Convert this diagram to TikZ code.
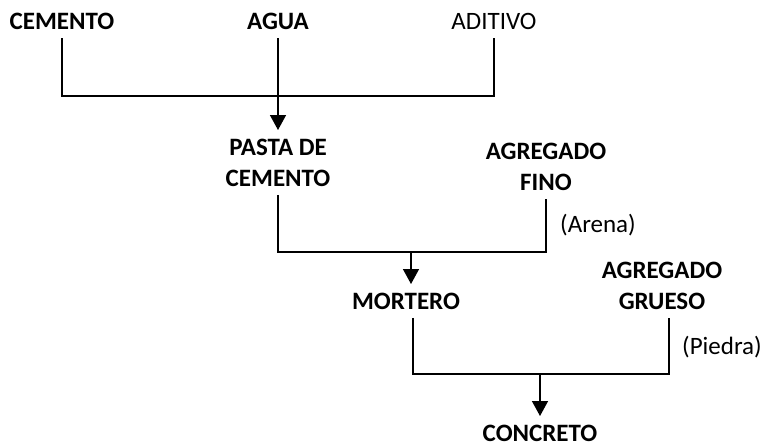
\documentclass[tikz,border=0pt]{standalone}
\usepackage{fontspec}
\setmainfont{Carlito}
\usetikzlibrary{arrows.meta}
\begin{document}
\begin{tikzpicture}[x=1pt,y=-1pt,line join=miter,>={Triangle[length=15pt,width=16pt]},line width=1.4pt]
\tikzset{bold label/.style={font=\fontsize{25}{31}\selectfont\bfseries,inner sep=8pt,align=center},
	plain label/.style={font=\fontsize{25}{31}\selectfont,inner sep=8pt}}
\useasboundingbox (0,0) rectangle (766,443);
\node[bold label] (cem) at (62,21.5) {CEMENTO};
\node[bold label] (agua) at (278,21.5) {AGUA};
\node[plain label] (adit) at (494,21.5) {ADITIVO};
\node[bold label] (pasta) at (278,162.5) {PASTA DE\\CEMENTO};
\node[bold label] (fino) at (546,166.5) {AGREGADO\\FINO};
\node[plain label] (arena) at (598,225) {(Arena)};
\node[bold label] (mort) at (406,301) {MORTERO};
\node[bold label] (grueso) at (662,286) {AGREGADO\\GRUESO};
\node[plain label] (piedra) at (722,347) {(Piedra)};
\node[bold label] (conc) at (540,433) {CONCRETO};
% cemento + agua + aditivo
\coordinate (j1) at (278,96);
\draw (cem.south) |- (j1) -| (adit.south);
\draw[->] (agua.south) -- (pasta.north);
% pasta + agregado fino
\coordinate (j2) at (411,252);
\draw (pasta.south) |- (j2) -| (fino.south);
\draw[->] (j2) -- (j2 |- mort.north);
% mortero + agregado grueso
\coordinate (j3) at (540,374);
\draw ([xshift=7pt]mort.south) |- (j3) -| ([xshift=7pt]grueso.south);
\draw[->] (j3) -- (conc.north);
\end{tikzpicture}
\end{document}
